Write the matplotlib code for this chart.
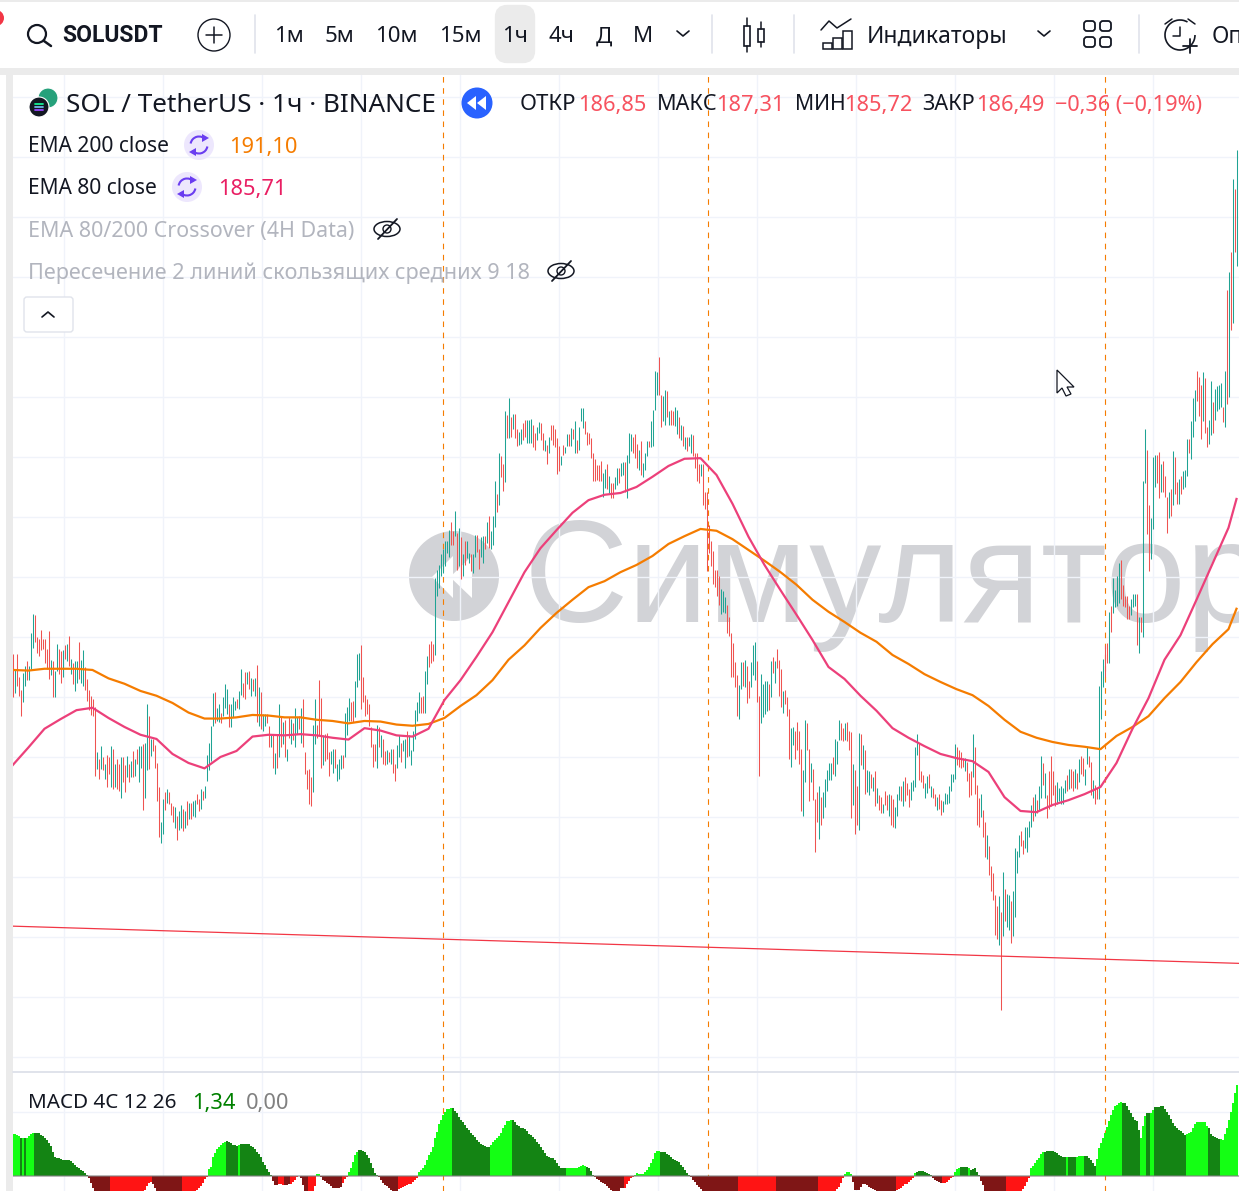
import matplotlib
matplotlib.use("Agg")
import matplotlib.pyplot as plt
from matplotlib.patches import Circle, Rectangle, FancyBboxPatch, Polygon, Arc, Ellipse

plt.rcParams['font.family'] = ['Noto Sans', 'DejaVu Sans']

# цены свечей: максимум, минимум, направление (по 10 баров в строке)
bar_high = [
    198.6,197.3,198.6,196.7,195.6,197.0,197.6,198.0,197.6,200.3,
    201.9,201.8,200.0,199.8,200.6,199.8,199.8,199.0,200.5,198.1,
    198.0,197.2,199.4,199.0,198.8,198.9,199.3,199.4,200.1,198.2,
    197.8,198.0,198.0,199.6,198.1,198.9,197.5,196.5,195.6,195.1,
    194.8,194.2,190.4,189.8,190.9,190.0,189.4,190.2,190.0,190.9,
    190.7,189.4,189.8,189.4,190.0,190.0,189.3,190.1,189.4,189.7,
    190.5,189.8,190.7,190.9,190.9,191.1,191.2,194.4,193.4,191.5,
    191.5,191.0,189.5,187.5,184.6,186.5,187.1,187.3,187.1,186.2,
    185.9,185.8,185.1,185.5,186.0,185.7,185.5,186.3,186.2,186.2,
    186.3,186.4,186.9,186.5,187.3,187.2,187.6,190.2,191.2,192.6,
    195.3,195.4,194.1,194.4,193.7,195.0,196.1,195.7,194.4,194.4,
    195.0,194.7,194.8,195.5,197.3,196.2,197.1,197.1,197.2,196.6,
    196.5,196.6,197.7,195.8,195.4,193.6,193.6,193.6,192.6,191.9,
    191.8,190.3,191.8,194.4,193.4,192.9,193.1,190.7,193.3,193.2,
    192.8,194.1,193.3,193.4,194.1,194.8,190.4,188.9,189.0,188.3,
    192.7,194.8,192.7,196.4,194.9,191.8,191.9,192.0,190.4,190.5,
    190.7,190.7,189.4,189.8,190.2,190.2,193.7,194.2,194.9,194.6,
    194.7,196.3,198.6,198.7,199.3,196.7,195.2,194.8,194.4,192.5,
    191.1,191.1,192.7,192.5,191.8,191.5,190.5,190.6,190.4,190.7,
    190.7,189.4,191.0,191.8,191.2,191.4,191.5,192.2,191.8,190.6,
    192.2,193.9,194.6,195.4,195.0,195.1,197.2,198.4,199.4,199.7,
    199.4,204.9,205.6,206.0,206.9,207.3,208.0,208.0,208.9,209.6,
    208.8,210.5,208.7,209.1,208.3,206.9,208.0,208.0,207.0,206.9,
    206.9,208.5,208.5,207.3,208.3,208.4,208.4,209.6,210.1,208.8,
    210.1,213.0,211.9,215.3,215.1,214.4,218.8,218.5,219.9,218.3,
    218.6,218.6,217.3,217.1,217.3,217.8,218.1,218.1,218.1,218.2,
    217.7,217.0,217.5,217.9,217.8,217.0,216.4,216.0,216.7,217.7,
    217.7,217.3,216.6,215.9,215.1,216.0,215.8,216.9,216.9,217.4,
    217.3,218.0,216.4,217.5,219.1,219.1,218.0,217.1,217.0,216.6,
    215.3,214.8,214.3,214.3,214.7,213.7,214.0,214.4,213.4,212.8,
    212.8,213.3,214.1,214.1,214.5,214.6,214.6,215.2,217.0,216.9,
    216.7,216.9,216.1,215.6,216.3,214.5,215.3,216.3,216.3,218.0,
    218.9,222.2,222.1,223.3,220.2,220.1,220.6,220.5,218.8,218.9,
    218.8,219.2,218.9,218.3,217.7,217.6,216.7,216.7,216.7,216.9,
    216.8,215.3,215.3,214.4,214.4,214.4,212.1,212.1,209.3,208.0,
    207.2,205.6,205.6,205.1,204.0,203.8,203.3,202.7,201.7,200.3,
    199.5,197.9,196.8,196.0,197.9,197.9,198.1,197.6,196.3,197.9,
    199.3,199.6,198.0,195.1,196.9,196.1,196.3,196.3,196.1,198.0,
    198.3,198.0,199.0,198.1,197.3,195.5,195.6,195.0,194.0,192.4,
    192.5,192.2,192.9,192.2,190.7,188.9,193.1,192.8,190.7,189.5,
    189.0,186.5,187.1,187.6,186.7,187.1,188.2,188.9,189.5,189.5,
    190.0,191.5,191.3,193.1,192.8,192.4,192.8,192.9,192.2,192.1,
    189.4,188.9,187.6,192.0,191.9,191.0,190.6,188.9,188.8,188.6,
    188.3,188.8,187.4,186.8,186.7,186.1,187.2,186.8,186.9,186.8,
    186.5,185.8,186.9,187.6,187.6,188.0,188.3,187.8,187.3,187.9,
    188.1,190.8,191.9,191.2,188.8,188.5,187.8,188.4,188.6,187.6,
    187.4,186.9,186.7,186.9,186.4,186.3,187.0,186.9,187.6,188.6,
    188.6,191.1,190.8,190.6,190.4,189.9,189.9,189.6,188.7,188.8,
    191.9,190.8,187.7,186.6,186.9,185.6,184.6,183.5,182.6,180.9,
    180.3,178.5,177.6,178.4,177.1,180.4,179.0,178.6,178.5,178.0,
    178.8,182.4,182.2,183.5,183.8,183.1,184.2,184.2,184.7,186.0,
    186.7,186.9,186.4,187.6,190.1,189.5,188.7,186.8,188.8,190.1,
    188.8,187.7,187.9,187.4,187.6,187.4,188.1,188.5,189.0,189.0,
    188.8,189.0,188.7,189.8,190.1,189.9,189.0,190.8,190.1,189.6,
    188.1,187.7,187.4,195.9,197.2,198.2,199.3,199.5,202.1,202.6,
    204.9,203.9,205.1,206.2,206.4,204.3,203.4,203.4,202.6,203.2,
    203.6,203.6,203.6,201.7,201.7,213.0,217.3,215.6,211.0,209.9,
    215.0,215.2,215.2,215.4,214.4,214.7,213.4,211.7,212.1,212.3,
    215.5,215.0,212.9,213.2,213.4,213.8,213.9,216.5,216.5,218.0,
    219.9,220.6,222.2,221.7,221.0,222.1,221.6,217.5,218.1,221.3,
    219.6,220.7,220.9,221.0,221.2,219.2,222.2,228.9,230.4,232.1,238.2,237.3,240.6,
]
bar_low = [
    195.0,195.3,195.9,195.1,193.4,194.6,195.9,196.4,196.4,197.3,
    199.1,199.6,198.7,198.4,198.9,199.0,197.8,197.3,196.5,196.8,
    195.0,195.0,197.2,196.9,196.2,196.7,198.2,198.0,197.6,196.9,
    196.1,195.5,196.2,196.5,196.2,195.9,195.6,194.7,193.9,193.5,
    193.4,188.4,189.0,188.2,189.0,188.9,188.2,187.5,188.6,187.5,
    187.3,187.5,187.3,187.2,186.6,187.9,187.1,188.3,187.9,188.3,
    188.3,188.4,189.4,187.9,189.1,185.6,186.6,188.9,189.0,190.1,
    190.5,189.1,186.3,183.3,182.8,183.6,185.6,186.2,186.1,185.2,
    184.6,184.1,183.1,183.9,184.1,183.8,184.1,184.3,184.8,184.8,
    185.1,185.0,186.1,185.5,185.7,186.4,186.6,188.0,188.9,189.7,
    192.6,192.8,193.0,192.9,192.8,193.4,194.1,193.6,192.5,192.5,
    193.3,193.9,194.1,194.0,195.2,195.0,194.8,196.1,195.7,195.1,
    195.5,195.1,192.9,192.6,192.3,192.2,192.6,192.8,190.8,190.8,
    189.1,188.6,189.1,190.0,190.8,191.1,190.0,189.7,191.6,191.1,
    191.4,190.8,191.9,192.3,191.2,190.8,188.6,187.3,186.1,185.9,
    187.1,191.1,191.6,191.8,189.1,189.3,189.7,189.8,188.4,189.4,
    188.7,189.1,188.0,188.2,189.0,189.1,190.0,191.8,193.0,193.0,
    192.9,193.3,195.8,196.4,194.0,194.6,193.4,193.6,192.6,190.8,
    189.2,189.7,189.1,190.8,190.0,189.4,189.3,189.4,189.6,189.4,
    188.7,188.0,189.1,190.0,189.6,190.5,189.1,190.0,190.1,189.3,
    190.5,191.5,193.0,193.7,193.7,193.7,193.7,196.1,197.5,197.8,
    198.0,198.5,203.4,204.1,205.1,205.3,205.9,207.0,206.7,207.7,
    207.7,208.4,205.6,205.9,204.8,205.1,206.0,206.6,206.2,205.5,
    205.3,206.7,207.1,205.7,206.7,206.2,207.3,207.8,207.4,207.3,
    207.7,209.2,210.4,211.0,213.3,212.2,212.9,216.6,216.6,216.7,
    217.3,216.6,215.9,216.0,216.1,216.4,216.7,216.2,216.2,216.2,
    215.8,215.6,216.4,217.0,216.4,215.6,215.5,214.4,215.3,216.4,
    216.0,215.8,213.6,213.8,214.3,215.2,215.3,215.9,215.9,215.9,
    216.5,215.3,215.3,215.6,218.0,217.4,216.9,216.0,216.1,214.9,
    213.0,213.0,213.1,213.0,213.0,211.7,212.4,212.3,212.0,211.6,
    211.6,212.3,212.7,212.8,213.4,213.5,212.1,211.6,214.5,215.5,
    215.3,214.9,214.1,213.9,213.5,213.3,213.9,215.1,215.8,215.8,
    215.9,218.9,220.2,220.2,217.5,218.0,217.7,218.3,217.7,217.7,
    217.7,217.6,216.9,216.6,216.4,215.9,215.7,215.5,215.9,215.3,
    215.1,214.1,213.0,212.8,213.4,211.0,210.7,205.5,207.0,205.9,
    204.4,204.2,203.4,202.7,201.9,202.1,202.0,200.3,200.1,196.7,
    196.7,195.8,193.4,193.2,195.7,195.9,195.8,194.5,194.9,195.8,
    196.8,196.4,194.6,188.4,192.8,193.3,193.6,193.8,193.9,195.0,
    197.0,196.2,197.4,195.1,194.2,193.7,194.4,193.4,189.8,189.2,
    191.0,189.8,190.6,189.4,185.5,185.1,187.9,190.6,186.3,187.9,
    186.4,182.1,184.6,183.2,184.3,184.9,185.8,187.2,188.1,188.1,
    188.6,188.4,189.4,191.4,191.4,191.3,191.4,191.3,190.6,184.9,
    186.0,183.6,184.3,183.9,189.3,189.0,186.9,187.1,186.8,187.4,
    187.2,185.9,186.2,185.6,185.3,185.3,186.0,185.6,185.1,184.3,
    184.2,184.1,185.1,186.4,186.3,185.9,186.3,186.8,185.8,186.4,
    187.2,187.5,190.2,188.1,187.9,187.4,186.6,187.0,187.4,186.7,
    186.6,185.9,185.6,185.7,185.2,185.4,186.1,186.1,186.2,187.2,
    187.9,188.2,189.3,189.2,189.1,189.2,188.8,188.0,186.7,186.8,
    188.3,186.9,184.3,184.2,185.0,183.3,181.7,181.5,180.2,178.8,
    178.1,175.2,174.8,174.3,168.9,175.1,176.3,175.8,175.6,174.5,
    175.1,176.7,180.3,181.7,182.6,181.9,182.4,182.1,183.3,184.2,
    184.7,185.1,185.3,185.6,186.6,187.7,186.6,184.9,185.7,185.9,
    186.8,185.9,186.1,186.3,186.1,186.1,187.0,187.2,187.3,187.4,
    187.2,187.4,187.3,187.9,188.6,188.4,187.7,189.4,189.2,186.8,
    186.6,186.1,186.5,186.5,193.2,195.8,196.7,197.8,197.8,200.4,
    202.0,202.5,202.6,202.8,203.2,202.6,202.5,201.5,201.5,201.8,
    202.5,202.6,199.3,198.7,200.4,200.0,212.8,208.6,205.5,206.5,
    209.0,212.5,212.8,211.6,212.1,212.1,211.7,208.7,209.9,210.1,
    211.0,211.9,211.1,211.1,211.9,212.3,212.5,213.4,215.3,214.8,
    216.7,218.0,219.7,218.4,216.5,218.0,217.0,215.8,216.1,216.8,
    217.0,218.1,218.8,219.0,219.2,217.9,217.5,219.4,220.0,225.6,226.2,232.1,230.9,
]
bar_dir = (
    "DUDDDUUDUU" "UDDDDDDDDU" "DUUDDUDUDU" "DUUDUUDDDD" "DDUDUDUDDU" "DUDDUDDUDU"
    "DUDUUDUUDU" "DDDDUUDUDD" "DUDUUDUDUD" "UUDDUDUUUU" "UDUUDUUUDU" "UUDUUDDUDU"
    "DUDUDUUDDU" "DUDUDUDUDU" "DUUDUDDDDD" "UUDDDUDDDU" "UDUUUDUUUD" "DUUUDDDDDD"
    "DDUDUDDUDU" "DDUUDUUDUU" "UUUUDDUUDD" "DUUUUUUUUD" "DUDUDUDUUD" "UUDDUUDUDU"
    "UUDUDDUDUD" "UDDUUDDUUU" "DDUUDDUDUD" "DDDDUDUUDU" "DUDUUUDDDD" "DDDDDUUDUD"
    "DUUDUUDUUU" "DDDUDUUUDU" "UUUDDUUDUD" "DUUDUDUDUU" "DDDDUDDDDD" "DDDDUUUDDD"
    "DDDUUDUDDU" "UUDDUUUUDU" "DUDDDUDDDU" "UDDDDUUDDU" "DDDUDUUUUU" "DUUUDDUDDD"
    "UDDUDUDUUD" "UDUDDUDDUD" "DUUUDUDDDU" "UUUDDDUUDU" "DDUDDUUUUU" "UUDDDDUDDD"
    "UDDDUDDUDD" "DDDUDUDUUD" "UUUUDDUUUU" "DUDUUDUDDD" "DDUUUUUDUD" "DUDUDDUUDD"
    "UDDUUUDDUD" "UUUUDDDDDU" "UUDUDUUDDU" "UUDDUDDDUD" "UDDUDUUUDU" "UUDDDUDDUU"
    "DUUUUDUDUDUDU"
)

# EMA читаем через каждые 8 баров, последняя точка на баре 612
ema_bars = list(range(0, 613, 8)) + [612]
ema200 = [
    197.25,197.2,197.35,197.35,197.35,197.25,196.55,196.1,195.5,195.1,
    194.5,193.7,193.2,193.2,193.3,193.5,193.45,193.3,193.3,193.1,
    193.0,192.8,193.0,192.95,192.7,192.6,192.75,193.25,194.25,195.15,
    196.4,198.1,199.3,200.75,202.0,203.1,204.15,204.65,205.4,206.0,
    206.75,207.75,208.4,209.0,208.85,208.15,207.25,206.35,205.4,204.35,
    203.1,202.1,201.25,200.35,199.6,198.5,197.75,196.9,196.25,195.65,
    195.15,194.25,193.1,192.1,191.6,191.25,191.0,190.85,190.65,191.75,
    192.5,193.4,194.9,196.25,197.9,199.4,200.65,202.35,
]
ema80 = [
    189.3,190.8,192.35,193.15,193.9,194.1,193.25,192.5,191.85,191.5,
    190.25,189.5,189.05,190.0,190.5,191.7,191.85,191.8,191.9,191.8,
    191.6,191.45,192.4,192.2,191.8,191.7,192.35,194.75,196.4,198.35,
    200.4,202.9,205.4,207.4,208.9,210.35,211.4,211.85,212.0,212.5,
    213.35,214.25,214.85,214.9,213.5,211.1,208.35,206.0,203.9,201.85,
    199.75,197.5,196.5,195.1,193.85,192.4,191.6,190.9,190.25,189.9,
    189.65,188.75,186.65,185.5,185.4,186.0,186.4,186.9,187.5,189.5,
    192.35,194.9,198.1,200.15,203.1,206.1,209.1,211.5,
]
trend_price = [175.9, 172.8]

# гистограмма MACD 4C
macd_hist = [
    .89,.89,.87,.85,.80,.80,.80,.80,.85,.90,
    .91,.91,.91,.91,.87,.85,.80,.76,.70,.64,
    .52,.40,.39,.38,.37,.35,.35,.34,.33,.32,
    .28,.24,.19,.16,.13,.11,.06,.02,-.05,-.15,
    -.26,-.34,-.42,-.46,-.5,-.53,-.56,-.58,-.6,-.6,
    -.6,-.6,-.58,-.57,-.55,-.54,-.52,-.5,-.48,-.46,
    -.44,-.42,-.4,-.38,-.36,-.34,-.3,-.22,-.15,-.12,
    -.18,-.26,-.35,-.4,-.45,-.48,-.5,-.52,-.54,-.55,
    -.55,-.55,-.54,-.52,-.5,-.48,-.46,-.44,-.42,-.4,
    -.38,-.35,-.3,-.26,-.22,-.14,-.06,-.02,.14,.2,
    .41,.48,.57,.62,.66,.70,.73,.74,.73,.70,
    .66,.66,.64,.66,.67,.67,.67,.67,.67,.64,
    .61,.57,.52,.46,.40,.30,.24,.14,.08,.02,
    -.1,-.19,-.19,-.18,-.17,-.2,-.2,-.2,-.18,-.16,
    -.12,-.08,-.03,-.01,-.05,-.2,-.32,-.36,-.36,-.36,
    -.33,-.22,.05,.05,-.03,-.08,-.1,-.14,-.18,-.22,
    -.25,-.26,-.26,-.26,-.24,-.15,-.06,-.02,.09,.18,
    .3,.45,.52,.55,.55,.53,.52,.45,.38,.28,
    .16,.06,.02,-.03,-.08,-.14,-.19,-.22,-.26,-.29,
    -.31,-.32,-.32,-.28,-.26,-.24,-.22,-.2,-.18,-.16,
    -.13,-.09,-.05,.08,.13,.18,.23,.34,.45,.52,
    .62,.80,.94,1.10,1.20,1.30,1.37,1.42,1.43,1.44,
    1.44,1.38,1.33,1.26,1.19,1.14,1.09,1.03,.98,.92,
    .87,.82,.77,.73,.69,.66,.64,.62,.61,.66,
    .73,.76,.80,.84,.92,1.01,1.09,1.16,1.18,1.19,
    1.19,1.14,1.09,1.06,1.03,1.01,.99,.95,.90,.87,
    .82,.78,.73,.67,.61,.55,.49,.43,.41,.39,
    .38,.33,.27,.22,.16,.16,.16,.16,.16,.17,
    .17,.18,.18,.20,.22,.23,.21,.19,.18,.10,
    .03,-.03,-.06,-.09,-.12,-.15,-.18,-.22,-.26,-.29,
    -.32,-.35,-.36,-.36,-.26,-.26,-.26,-.17,-.1,-.05,
    -.02,.02,.06,.05,.05,.04,.08,.13,.19,.27,
    .37,.48,.53,.53,.52,.51,.50,.47,.45,.41,
    .36,.33,.31,.29,.24,.20,.13,.07,.03,-.03,
    -.08,-.13,-.19,-.24,-.27,-.33,-.37,-.4,-.44,-.47,
    -.5,-.52,-.54,-.55,-.56,-.57,-.58,-.58,-.58,-.58,
    -.57,-.56,-.55,-.54,-.53,-.52,-.5,-.49,-.48,-.47,
    -.47,-.47,-.48,-.49,-.5,-.5,-.5,-.5,-.5,-.49,
    -.48,-.47,-.46,-.45,-.44,-.44,-.45,-.46,-.47,-.48,
    -.49,-.5,-.5,-.5,-.49,-.48,-.47,-.46,-.45,-.44,
    -.43,-.42,-.42,-.42,-.41,-.4,-.39,-.38,-.37,-.36,
    -.35,-.33,-.28,-.24,-.14,-.05,.05,.08,.08,.04,
    -.12,-.3,-.3,-.3,-.24,-.16,-.18,-.2,-.23,-.25,
    -.27,-.3,-.32,-.33,-.34,-.35,-.36,-.36,-.36,-.36,
    -.34,-.32,-.3,-.28,-.26,-.22,-.18,-.16,-.12,-.08,
    -.05,.06,.09,.1,.1,.1,.08,.06,.04,.02,
    -.05,-.08,-.1,-.13,-.14,-.14,-.14,-.12,-.09,-.05,
    -.02,.09,.14,.18,.19,.19,.19,.19,.17,.13,
    .15,.16,.09,.03,-.1,-.2,-.32,-.35,-.38,-.4,
    -.42,-.44,-.44,-.44,-.44,-.44,-.43,-.42,-.41,-.4,
    -.38,-.36,-.35,-.34,-.32,-.28,-.22,-.12,-.04,.16,
    .22,.27,.33,.38,.46,.52,.52,.53,.53,.53,
    .53,.50,.48,.45,.43,.41,.41,.40,.40,.40,
    .40,.40,.41,.42,.42,.43,.43,.43,.38,.34,
    .28,.21,.36,.60,.70,.80,.92,1.05,1.18,1.30,
    1.40,1.48,1.52,1.55,1.57,1.56,1.55,1.48,1.40,1.33,
    1.25,1.20,1.16,.98,.80,1.06,1.28,1.33,1.33,1.33,
    1.40,1.46,1.47,1.47,1.48,1.48,1.42,1.36,1.30,1.21,
    1.12,1.06,1.01,.98,.95,.92,.87,.89,.91,.94,
    1.03,1.10,1.14,1.14,1.14,1.14,1.14,1.06,1.01,.90,
    .85,.83,.80,.79,.78,.77,.89,1.01,1.20,1.37,1.55,1.76,1.94,
]
# L светло-зелёный, G тёмно-зелёный, R красный, M тёмно-красный
macd_runs = [
    ("L",4),("G",1),("L",1),("G",1),("L",4),("G",27),("M",11),("R",21),("M",15),("R",13),
    ("L",9),("G",6),("L",1),("G",16),("M",3),("R",3),("M",3),("R",5),("M",4),("R",4),
    ("L",2),("M",11),("R",3),("L",5),("G",10),("M",10),("R",10),("L",17),("G",19),("L",11),
    ("G",27),("L",10),("G",4),("M",15),("R",5),("L",13),("G",15),("M",24),("R",19),("M",21),
    ("R",13),("L",4),("M",22),("R",9),("L",1),("G",8),("M",5),("R",6),("L",3),("G",4),
    ("L",1),("G",5),("M",13),("R",12),("L",7),("G",11),("L",1),("G",4),("L",4),("G",6),
    ("L",13),("G",9),("L",3),("G",2),("L",2),("G",16),("L",11),("G",6),("L",9),
]
macd_tone = "".join(t * n for t, n in macd_runs)

n_bars = len(bar_high)

W, H = 1239, 1191
GRID = '#f0f3fa'
DARK = '#131722'
RED = '#f7525f'
ORANGE = '#f57c00'
PINK = '#ec407a'
WATER = '#d2d3d7'
VLINES = [215, 347.5, 546]   # номера баров с вертикальными линиями
XLIM = (0.25, 613.25)
GRID_X = [(x - 12.5) / 2 for x in range(64, 1239, 99)]

fig = plt.figure(figsize=(W / 100, H / 100), dpi=100, facecolor='white')


def rect(x0, y0, x1, y1):
    return [x0 / W, 1 - y1 / H, (x1 - x0) / W, (y1 - y0) / H]


# подложка: серые полосы и водяной знак
bg = fig.add_axes([0, 0, 1, 1], zorder=0)
bg.set_xlim(0, W)
bg.set_ylim(H, 0)
bg.axis('off')
bg.add_patch(Rectangle((0, 68), W, 7, fc='#ebebeb', ec='none'))
bg.add_patch(Rectangle((0, 0), W, 2, fc='#ebebeb', ec='none'))
bg.add_patch(Rectangle((6, 68), 7, H, fc='#ebebeb', ec='none'))
bg.add_patch(Circle((454, 576), 45, fc=WATER, ec='none'))
bg.add_patch(Polygon([(432, 577), (453, 556), (453, 598)], fc='white', ec='none'))
bg.add_patch(Polygon([(450, 577), (472, 556), (472, 598)], fc='white', ec='none'))
bg.text(524, 622, 'Симулятор', fontsize=104, color=WATER, family='Liberation Sans', va='baseline', ha='left', clip_on=True)

# основной график
ax = fig.add_axes(rect(13, 75, 1239, 1071), zorder=1)
ax.patch.set_alpha(0)
ax.set_xlim(*XLIM)
ax.set_ylim(163.83, 246.83)
for s in ax.spines.values():
    s.set_visible(False)
ax.set_xticks(GRID_X)
ax.set_yticks(range(165, 246, 5))
ax.tick_params(left=False, bottom=False, labelleft=False, labelbottom=False)
ax.grid(True, color=GRID, lw=1)
ax.set_axisbelow(True)
for v in VLINES:
    ax.axvline(v, color=ORANGE, lw=0.8, dashes=(5, 5), zorder=1.5)
idx = range(n_bars)
colors = ['#1fa394' if d == 'U' else '#ef5350' for d in bar_dir]
ax.vlines(idx, bar_low, bar_high, colors=colors, lw=0.75, zorder=2)
ax.plot(XLIM, trend_price, color='#f23645', lw=0.9, zorder=3)
ax.plot(ema_bars, ema200, color=ORANGE, lw=1.6, zorder=4)
ax.plot(ema_bars, ema80, color=PINK, lw=1.6, zorder=4)

# панель MACD
mx = fig.add_axes(rect(13, 1073, 1239, 1191), zorder=1)
mx.patch.set_alpha(0)
mx.set_xlim(*XLIM)
mx.set_ylim(-0.319, 2.19)
for s in mx.spines.values():
    s.set_visible(False)
mx.set_xticks(GRID_X)
mx.set_yticks([1.36])
mx.tick_params(left=False, bottom=False, labelleft=False, labelbottom=False)
mx.grid(True, color=GRID, lw=1)
mx.set_axisbelow(True)
for v in VLINES:
    mx.axvline(v, color=ORANGE, lw=0.8, dashes=(5, 5), zorder=1.5)
tone_color = {'L': '#14ff14', 'G': '#148414', 'R': '#ff1414', 'M': '#7f1616'}
mx.bar(idx, macd_hist, width=1.0, color=[tone_color[t] for t in macd_tone], lw=0, antialiased=False, zorder=2)
mx.axhline(0, color='#808080', lw=1.2, alpha=0.65, zorder=3)

# верхний слой: интерфейс
ui = fig.add_axes([0, 0, 1, 1], zorder=3)
ui.set_xlim(0, W)
ui.set_ylim(H, 0)
ui.axis('off')
ui.patch.set_alpha(0)


def label(x, y, s, size, color=DARK, weight='normal', ha='left', family=None):
    ui.text(x, y, s, fontsize=size, color=color, fontweight=weight, ha=ha, va='center', family=family)


def seg(pts, color=DARK, lw=1.1):
    xs, ys = zip(*pts)
    ui.plot(xs, ys, color=color, lw=lw, solid_capstyle='round', solid_joinstyle='round')


def divider(x):
    seg([(x, 15), (x, 53)], '#e0e3eb', 1.2)


def chevron(x, y, up=False):
    d = -6 if up else 4
    seg([(x - 6, y - d / 2), (x, y + d / 2 + 1), (x + 6, y - d / 2)], DARK, 1.2)


def sync_icon(cx, cy):
    ui.add_patch(Circle((cx, cy), 15, fc='#ede7fd', ec='none'))
    ui.add_patch(Arc((cx, cy), 17, 17, theta1=190, theta2=320, ec='#6a3df0', lw=1.5))
    ui.add_patch(Arc((cx, cy), 17, 17, theta1=10, theta2=140, ec='#6a3df0', lw=1.5))
    ui.add_patch(Polygon([(cx + 3, cy - 11), (cx + 10, cy - 7), (cx + 3, cy - 3)], fc='#6a3df0', ec='none'))
    ui.add_patch(Polygon([(cx - 3, cy + 11), (cx - 10, cy + 7), (cx - 3, cy + 3)], fc='#6a3df0', ec='none'))


def eye_icon(cx, cy):
    ui.add_patch(Ellipse((cx, cy), 26, 15, fc='none', ec=DARK, lw=1.1))
    ui.add_patch(Circle((cx, cy), 4, fc='none', ec=DARK, lw=1.0))
    seg([(cx - 9, cy + 10), (cx + 10, cy - 10)], DARK, 1.3)


# красная точка и поиск
ui.add_patch(Circle((-4, 18), 8, fc='#f23645', ec='none'))
ui.add_patch(Circle((37, 34), 9, fc='none', ec=DARK, lw=1.6))
seg([(44, 41), (51, 46)], DARK, 1.8)
label(62, 36, 'SOLUSDT', 16.5, DARK, 'bold', family='Roboto')
ui.add_patch(Circle((214, 35), 16, fc='none', ec=DARK, lw=1.0))
seg([(206, 35), (222, 35)])
seg([(214, 27), (214, 43)])
divider(255)

ui.add_patch(FancyBboxPatch((499, 9), 32, 50, boxstyle='round,pad=0,rounding_size=8', fc='#ebebeb', ec='#ebebeb', lw=6))
for x, t in zip([289, 339, 396, 460, 515, 561, 604, 643], ['1м', '5м', '10м', '15м', '1ч', '4ч', 'Д', 'М']):
    label(x, 37, t, 16, DARK, ha='center')
chevron(683, 33)
divider(712)

# значок свечей
ui.add_patch(Rectangle((744, 26), 6, 20, fc='none', ec=DARK, lw=1.2))
seg([(747, 18), (747, 26)])
seg([(747, 46), (747, 52)])
ui.add_patch(Rectangle((758, 29), 6, 13, fc='none', ec=DARK, lw=1.2))
seg([(761, 22), (761, 29)])
seg([(761, 42), (761, 47)])
divider(794)

# значок индикаторов
seg([(821, 30), (829, 21), (837, 28), (851, 19)], DARK, 1.1)
for bx, by in [(823, 43), (833, 38), (843, 31)]:
    ui.add_patch(Rectangle((bx, by), 9, 49 - by, fc='none', ec=DARK, lw=1.1))
label(867, 37, 'Индикаторы', 16.5)
chevron(1044, 33)
for gx, gy in [(1084, 21), (1100, 21), (1084, 37), (1100, 37)]:
    ui.add_patch(FancyBboxPatch((gx, gy), 11, 10, boxstyle='round,pad=0,rounding_size=3', fc='none', ec=DARK, lw=1.3))
divider(1139)

# будильник
ui.add_patch(Arc((1180, 35), 30, 30, theta1=0, theta2=300, ec=DARK, lw=1.2))
seg([(1180, 27), (1180, 36), (1173, 36)])
seg([(1165, 24), (1172, 19)])
seg([(1188, 19), (1195, 24)])
seg([(1183, 46), (1197, 46)], DARK, 1.3)
seg([(1190, 39), (1190, 53)], DARK, 1.3)
ui.text(1212, 37, 'Оп', fontsize=16.5, color=DARK, ha='left', va='center', clip_on=True)

# логотип и заголовок
ui.add_patch(Circle((48, 98), 10, fc='#26a17b', ec='white', lw=0.8))
ui.add_patch(Circle((39, 107), 10, fc='#131722', ec='white', lw=0.8))
for k, col in zip([-3, 0, 3], ['#14f195', '#6fb8e8', '#9945ff']):
    seg([(35, 107 + k), (43, 107 + k)], col, 1.3)
label(66, 105, 'SOL / TetherUS · 1ч · BINANCE', 18.8)
ui.add_patch(Circle((477, 103), 15.5, fc='#2962ff', ec='none'))
ui.add_patch(Polygon([(467, 103), (476, 96), (476, 110)], fc='white', ec='none'))
ui.add_patch(Polygon([(477, 103), (486, 96), (486, 110)], fc='white', ec='none'))

for x, t, col, size in [(520, 'ОТКР', DARK, 16), (578, '186,85', RED, 15.7), (657, 'МАКС', DARK, 15.5),
                        (716, '187,31', RED, 15.7), (795, 'МИН', DARK, 15.2), (844, '185,72', RED, 15.7),
                        (922, 'ЗАКР', DARK, 15.5), (976, '186,49', RED, 15.7),
                        (1055, '−0,36 (−0,19%)', RED, 15.6)]:
    label(x, 105, t, size, col)

label(28, 147, 'EMA 200 close', 15.1)
sync_icon(199, 145)
label(229, 147, '191,10', 15.7, ORANGE)
label(28, 189, 'EMA 80 close', 15.1)
sync_icon(187, 187)
label(218, 189, '185,71', 15.7, '#e91e63')
label(28, 231, 'EMA 80/200 Crossover (4H Data)', 15.45, '#b2b5be')
eye_icon(387, 229)
label(28, 273, 'Пересечение 2 линий скользящих средних 9 18', 15.55, '#b2b5be')
eye_icon(561, 271)
ui.add_patch(FancyBboxPatch((24, 297), 49, 35, boxstyle='round,pad=0,rounding_size=3', fc='white', ec='#e0e3eb', lw=1))
chevron(48, 314, up=True)

# курсор мыши
ui.add_patch(Polygon([(1057, 370), (1057, 393), (1062, 388), (1066, 396), (1071, 394), (1067, 387), (1074, 387)],
                     fc='white', ec=DARK, lw=0.9))

# разделитель панелей и подпись MACD
seg([(13, 1072), (1239, 1072)], '#e0e3eb', 1.4)
label(28, 1103, 'MACD 4C 12 26', 14.9)
label(192, 1103, '1,34', 15.7, '#008000')
label(246, 1103, '0,00', 15.7, '#808080')

fig.savefig('out.png', dpi=100, facecolor='white')
